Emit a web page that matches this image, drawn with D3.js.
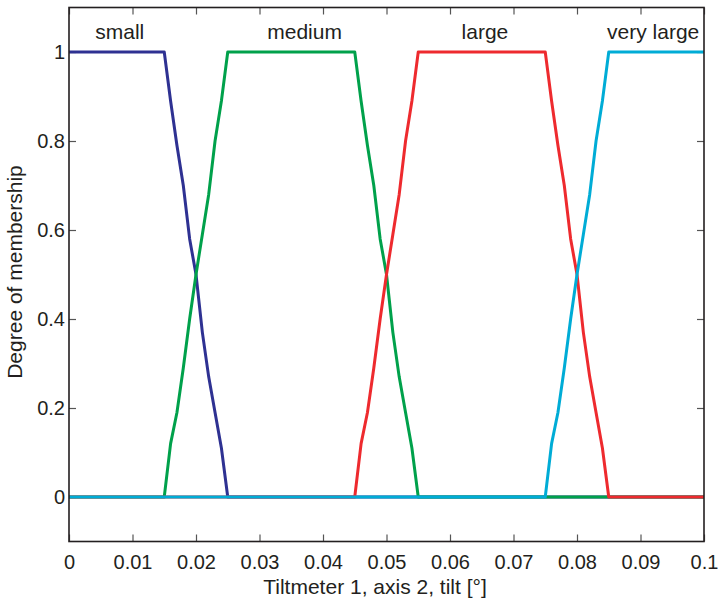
<!DOCTYPE html>
<html>
<head>
<meta charset="utf-8">
<script src="https://cdn.jsdelivr.net/npm/d3@7"></script>
<style>
  body { margin: 0; background: #fff; }
  svg { display: block; font-family: "Liberation Sans", Arial, Helvetica, sans-serif; }
  .tick line { stroke: #555; stroke-width: 1.2; }
  .tick text { fill: #231f20; font-size: 20px; }
  .label { fill: #231f20; font-size: 21px; }
</style>
</head>
<body>
<svg id="chart" width="718" height="603"></svg>
<script>
// Membership functions
const smallX  = [0, 0.015, 0.016, 0.017, 0.018, 0.019, 0.020, 0.021, 0.022, 0.023, 0.024, 0.025, 0.1];
const smallY  = [1, 1, 0.89, 0.79, 0.70, 0.58, 0.50, 0.37, 0.27, 0.19, 0.11, 0, 0];

const mediumX = [0, 0.015, 0.016, 0.017, 0.018, 0.019, 0.020, 0.021, 0.022, 0.023, 0.024, 0.025,
                 0.045, 0.046, 0.047, 0.048, 0.049, 0.050, 0.051, 0.052, 0.053, 0.054, 0.055, 0.1];
const mediumY = [0, 0, 0.12, 0.19, 0.29, 0.40, 0.50, 0.59, 0.68, 0.80, 0.89, 1,
                 1, 0.89, 0.79, 0.70, 0.58, 0.50, 0.37, 0.27, 0.19, 0.11, 0, 0];

const largeX  = [0, 0.045, 0.046, 0.047, 0.048, 0.049, 0.050, 0.051, 0.052, 0.053, 0.054, 0.055,
                 0.075, 0.076, 0.077, 0.078, 0.079, 0.080, 0.081, 0.082, 0.083, 0.084, 0.085, 0.1];
const largeY  = [0, 0, 0.12, 0.19, 0.29, 0.40, 0.50, 0.59, 0.68, 0.80, 0.89, 1,
                 1, 0.89, 0.79, 0.70, 0.58, 0.50, 0.37, 0.27, 0.19, 0.11, 0, 0];

const vlargeX = [0, 0.075, 0.076, 0.077, 0.078, 0.079, 0.080, 0.081, 0.082, 0.083, 0.084, 0.085, 0.1];
const vlargeY = [0, 0, 0.12, 0.19, 0.29, 0.40, 0.50, 0.59, 0.68, 0.80, 0.89, 1, 1];

const seriesNames  = ["small", "medium", "large", "very large"];
const seriesColors = ["#2e3192", "#00a14b", "#ee2a2e", "#00acd6"];
const labelX = [0.008, 0.0371, 0.0655, 0.092];
const labelY = 1.029;

const xTicks = [0, 0.01, 0.02, 0.03, 0.04, 0.05, 0.06, 0.07, 0.08, 0.09, 0.1];
const yTicks = [0, 0.2, 0.4, 0.6, 0.8, 1];

const margin = {top: 7.5, right: 14, bottom: 61.5, left: 69};
const width = 718 - margin.left - margin.right;
const height = 603 - margin.top - margin.bottom;

const svg = d3.select("#chart");
const g = svg.append("g").attr("transform", "translate(" + margin.left + "," + margin.top + ")");

const x = d3.scaleLinear().domain([0, 0.1]).range([0, width]);
const y = d3.scaleLinear().domain([-0.1, 1.1]).range([height, 0]);

/**
 * Axes with inward ticks on all four sides
 */
const fmt = d => d3.format("")(+d.toFixed(2));

g.append("g")
  .attr("transform", "translate(0," + height + ")")
  .call(d3.axisBottom(x).tickValues(xTicks).tickSize(-7).tickPadding(13).tickFormat(fmt))
  .call(a => a.select(".domain").remove());

g.append("g")
  .call(d3.axisTop(x).tickValues(xTicks).tickSize(-7).tickFormat(""))
  .call(a => a.select(".domain").remove());

g.append("g")
  .call(d3.axisLeft(y).tickValues(yTicks).tickSize(-7).tickPadding(4).tickFormat(fmt))
  .call(a => a.select(".domain").remove());

g.append("g")
  .attr("transform", "translate(" + width + ",0)")
  .call(d3.axisRight(y).tickValues(yTicks).tickSize(-7).tickFormat(""))
  .call(a => a.select(".domain").remove());

g.selectAll(".tick text").attr("font-size", null).attr("font-family", null);

/**
 * Membership curves
 */
const line = d3.line().x(d => x(d[0])).y(d => y(d[1]));
const series = [
  d3.zip(smallX, smallY),
  d3.zip(mediumX, mediumY),
  d3.zip(largeX, largeY),
  d3.zip(vlargeX, vlargeY)
];

g.selectAll(".curve")
  .data(series)
  .enter()
  .append("path")
  .attr("class", "curve")
  .attr("d", line)
  .attr("fill", "none")
  .attr("stroke", (d, i) => seriesColors[i])
  .attr("stroke-width", 3)
  .attr("stroke-linejoin", "round");

// Box
g.append("rect")
  .attr("width", width)
  .attr("height", height)
  .attr("fill", "none")
  .attr("stroke", "#231f20")
  .attr("stroke-width", 1.6);

// Series labels
g.selectAll(".series-label")
  .data(seriesNames)
  .enter()
  .append("text")
  .attr("class", "label series-label")
  .attr("x", (d, i) => x(labelX[i]))
  .attr("y", y(labelY))
  .attr("text-anchor", "middle")
  .text(d => d);

// Axis titles
svg.append("text")
  .attr("class", "label")
  .attr("x", 375)
  .attr("y", 594)
  .attr("text-anchor", "middle")
  .text("Tiltmeter 1, axis 2, tilt [°]");

svg.append("text")
  .attr("class", "label")
  .attr("transform", "translate(22,272) rotate(-90)")
  .attr("text-anchor", "middle")
  .text("Degree of membership");
</script>
</body>
</html>
